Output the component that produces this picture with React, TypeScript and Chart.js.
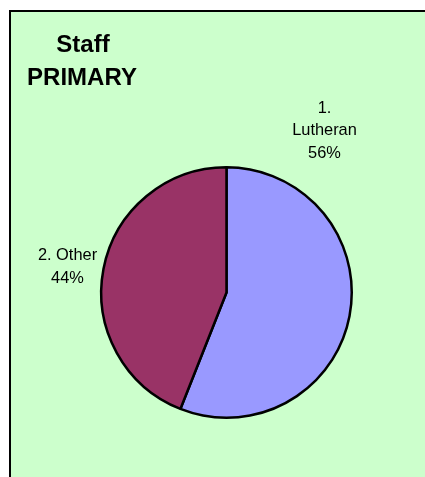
import React, { useEffect, useRef } from "react";
import { Chart, registerables } from "chart.js";

Chart.register(...registerables);

const categories = ["1. Lutheran", "2. Other"];
const values = [56, 44];
const sliceColors = ["#9999FF", "#993366"];
const titleLines = ["Staff", "PRIMARY"];

export default function App() {
  const ref = useRef<HTMLCanvasElement>(null);

  useEffect(() => {
    if (!ref.current) return;
    const total = values.reduce((a, b) => a + b, 0);

    const textPlugin = {
      id: "excelText",
      afterDraw(chart: any) {
        const ctx = chart.ctx;
        const arc = chart.getDatasetMeta(0).data[0];
        const cx = arc.x;
        const cy = arc.y;
        ctx.save();
        ctx.fillStyle = "#000";
        ctx.textAlign = "center";
        ctx.textBaseline = "alphabetic";

        // Title
        ctx.font = 'bold 24px "Liberation Sans", Arial, sans-serif';
        ctx.fillText(titleLines[0], 83, 52);
        ctx.fillText(titleLines[1], 82, 85);

        // Data labels
        ctx.font = '16.4px "Liberation Sans", Arial, sans-serif';
        const anchors = [
          { dx: 98, dy: -180, wrap: true },
          { dx: -159, dy: -32.5, wrap: false },
        ];
        categories.forEach((cat, i) => {
          const pct = Math.round((values[i] / total) * 100) + "%";
          const lines = anchors[i].wrap ? cat.split(" ") : [cat];
          lines.push(pct);
          lines.forEach((ln, j) => {
            ctx.fillText(ln, cx + anchors[i].dx, cy + anchors[i].dy + j * 22.7);
          });
        });
        ctx.restore();
      },
    };

    const chart = new Chart(ref.current, {
      type: "pie",
      data: {
        labels: categories,
        datasets: [
          {
            data: values,
            backgroundColor: sliceColors,
            borderColor: "#000",
            borderWidth: 2.5,
          },
        ],
      },
      options: {
        responsive: false,
        animation: false,
        devicePixelRatio: 1,
        layout: { padding: { left: 100, top: 166, right: 72, bottom: 58 } },
        plugins: {
          legend: { display: false },
          title: { display: false },
          tooltip: { enabled: false },
        },
      },
      plugins: [textPlugin],
    });
    return () => chart.destroy();
  }, []);

  return (
    <div style={{ position: "absolute", left: 0, top: 0, width: 425, height: 477, overflow: "hidden" }}>
      <div
        style={{
          position: "absolute",
          left: 9,
          top: 10,
          width: 440,
          height: 490,
          boxSizing: "border-box",
          background: "#CCFFCC",
          borderLeft: "2px solid #000",
          borderTop: "2px solid #000",
        }}
      />
      <canvas
        ref={ref}
        width={425}
        height={477}
        style={{ position: "absolute", left: 0, top: 0, width: 425, height: 477 }}
      />
    </div>
  );
}
